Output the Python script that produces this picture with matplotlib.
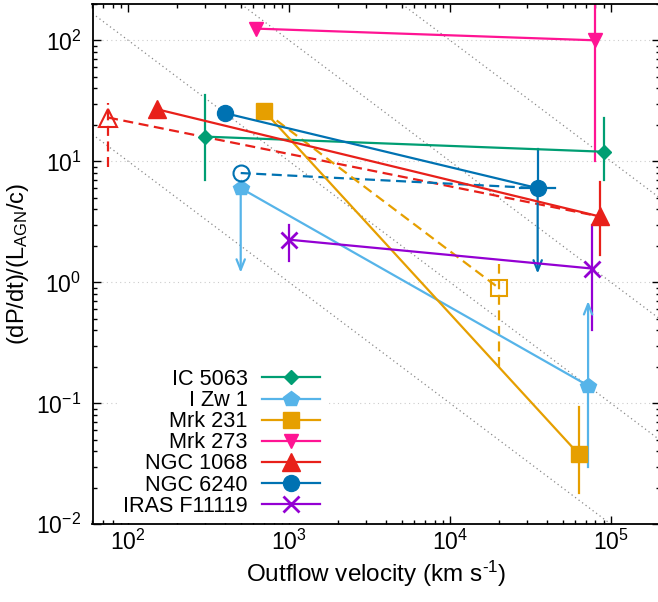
import matplotlib
matplotlib.use('Agg')
import matplotlib.pyplot as plt
import numpy as np

plt.rcParams['font.family'] = ['Liberation Sans', 'DejaVu Sans']
plt.rcParams['mathtext.fontset'] = 'custom'
plt.rcParams['mathtext.rm'] = 'Liberation Sans'
plt.rcParams['mathtext.it'] = 'Liberation Sans:italic'
plt.rcParams['mathtext.default'] = 'regular'
plt.rcParams['axes.unicode_minus'] = False

# sources, in legend order
names = ['IC 5063', 'I Zw 1', 'Mrk 231', 'Mrk 273', 'NGC 1068', 'NGC 6240', 'IRAS F11119']
colors = ['#009e73', '#56b4e9', '#e69f00', '#ff1493', '#e8201a', '#0072b2', '#9400d3']
markers = ['D', 'p', 's', 'v', '^', 'o', 'x']
msizes = [7.6, 11.5, 11.5, 10.5, 13, 11.5, 11.5]

# low-velocity (molecular) and high-velocity (UFO) measurements
v_low = [300, 500, 700, 620, 150, 400, 1000]
p_low = [16, 6, 26, 125, 27, 25, 2.25]
v_high = [9.0e4, 7.2e4, 6.3e4, 8.0e4, 8.5e4, 3.5e4, 7.6e4]
p_high = [12, 0.14, 0.038, 100, 3.5, 6, 1.3]

# vertical error bars (source index, velocity, low, high)
eb_src = [0, 0, 1, 2, 3, 4, 5, 6, 6]
eb_v = [300, 9.0e4, 7.2e4, 6.3e4, 8.0e4, 8.5e4, 3.5e4, 1000, 7.6e4]
eb_lo = [7.0, 7.0, 0.03, 0.018, 10, 1.67, 6, 1.5, 0.40]
eb_hi = [35, 23, 0.14, 0.094, 1000, 6.75, 12.7, 2.96, 2.96]

# horizontal error bar of NGC 6240 (UFO)
hb_v_lo = [2.7e4]
hb_v_hi = [4.5e4]
hb_p = [6]
hb_src = [5]

# limits drawn as arrows (source index, velocity, from, to)
ar_src = [1, 1, 5]
ar_v = [500, 7.2e4, 3.5e4]
ar_from = [6, 0.14, 6]
ar_to = [1.2, 0.7, 1.18]

# alternative estimates, open symbols joined with dashed lines
op_src = [4, 5, 2]
op_v = [75, 500, 2.0e4]
op_p = [23, 8, 0.9]
op_lo = [9.0, np.nan, 0.2]
op_hi = [30.5, np.nan, 1.43]
op_join = ['high', 'high', 'low']

# lines of constant v * (dP/dt)/(L/c)
ref_levels = [1e3, 1e4, 1e5, 1e6]

xlim = (60, 2e5)
ylim = (1e-2, 200)

fig = plt.figure(figsize=(6.58, 6.02), dpi=100)
ax = fig.add_axes([92.5 / 658, (602 - 524.3) / 602, 567 / 658, 520.4 / 602])
ax.set_xscale('log')
ax.set_yscale('log')

vv = np.array(xlim)
for lev in ref_levels:
    ax.plot(vv, lev / vv, ls=(0, (1, 2.5)), color='#888888', lw=0.9, zorder=1)

ax.grid(axis='y', which='major', ls=(0, (1, 3)), color='#cccccc', lw=0.8)

lw = 1.6
for i in range(len(names)):
    c = colors[i]
    ax.plot([v_low[i], v_high[i]], [p_low[i], p_high[i]], color=c, lw=lw,
            marker=markers[i], ms=msizes[i], mew=2 if markers[i] == 'x' else 1,
            label=names[i], zorder=3)

for k in range(len(op_v)):
    i = op_src[k]
    c = colors[i]
    if op_join[k] == 'high':
        xs = [op_v[k], v_high[i]]
        ys = [op_p[k], p_high[i]]
    else:
        xs = [v_low[i], op_v[k]]
        ys = [p_low[i], op_p[k]]
    ax.plot(xs, ys, color=c, lw=lw, dashes=(4.5, 2.5), zorder=2)
    if not np.isnan(op_lo[k]):
        ax.plot([op_v[k], op_v[k]], [op_lo[k], op_hi[k]], color=c, lw=lw,
                dashes=(4.5, 2.5), zorder=2)
    ax.plot(op_v[k], op_p[k], ls='none', marker=markers[i], ms=msizes[i],
            mfc='none', mec=c, mew=1.5, zorder=3)

for k in range(len(eb_v)):
    c = colors[eb_src[k]]
    ax.plot([eb_v[k], eb_v[k]], [eb_lo[k], eb_hi[k]], color=c, lw=lw, zorder=2)

for k in range(len(hb_p)):
    c = colors[hb_src[k]]
    ax.plot([hb_v_lo[k], hb_v_hi[k]], [hb_p[k], hb_p[k]], color=c, lw=lw, zorder=2)

for k in range(len(ar_v)):
    c = colors[ar_src[k]]
    ax.annotate('', xy=(ar_v[k], ar_to[k]), xytext=(ar_v[k], ar_from[k]),
                arrowprops=dict(arrowstyle='->,head_length=0.5,head_width=0.2',
                                color=c, lw=lw, shrinkA=0, shrinkB=0,
                                mutation_scale=15), zorder=2)

ax.set_xlim(*xlim)
ax.set_ylim(*ylim)
ax.tick_params(which='both', direction='in', top=True, right=True, width=1,
               labelsize=16.5)
ax.tick_params(which='major', length=6, pad=4)
ax.tick_params(which='minor', length=3)
ax.tick_params(axis='y', which='major', pad=8)
for s in ax.spines.values():
    s.set_linewidth(1.3)

ax.set_xlabel(r'Outflow velocity (km s$^{\text{-}1}$)', fontsize=17.5, labelpad=3)
ax.set_ylabel('(dP/dt)/(L$_{AGN}$/c)', fontsize=17, labelpad=4)

leg = ax.legend(loc='lower right', bbox_to_anchor=(0.415, 0.0), markerfirst=False,
                numpoints=1, fontsize=15.6, handlelength=2.7, handletextpad=0.65,
                labelspacing=0.005, borderpad=0.3, borderaxespad=0.05,
                fancybox=False, framealpha=1)
leg.get_frame().set_edgecolor('none')

fig.savefig('out.png', dpi=100)
